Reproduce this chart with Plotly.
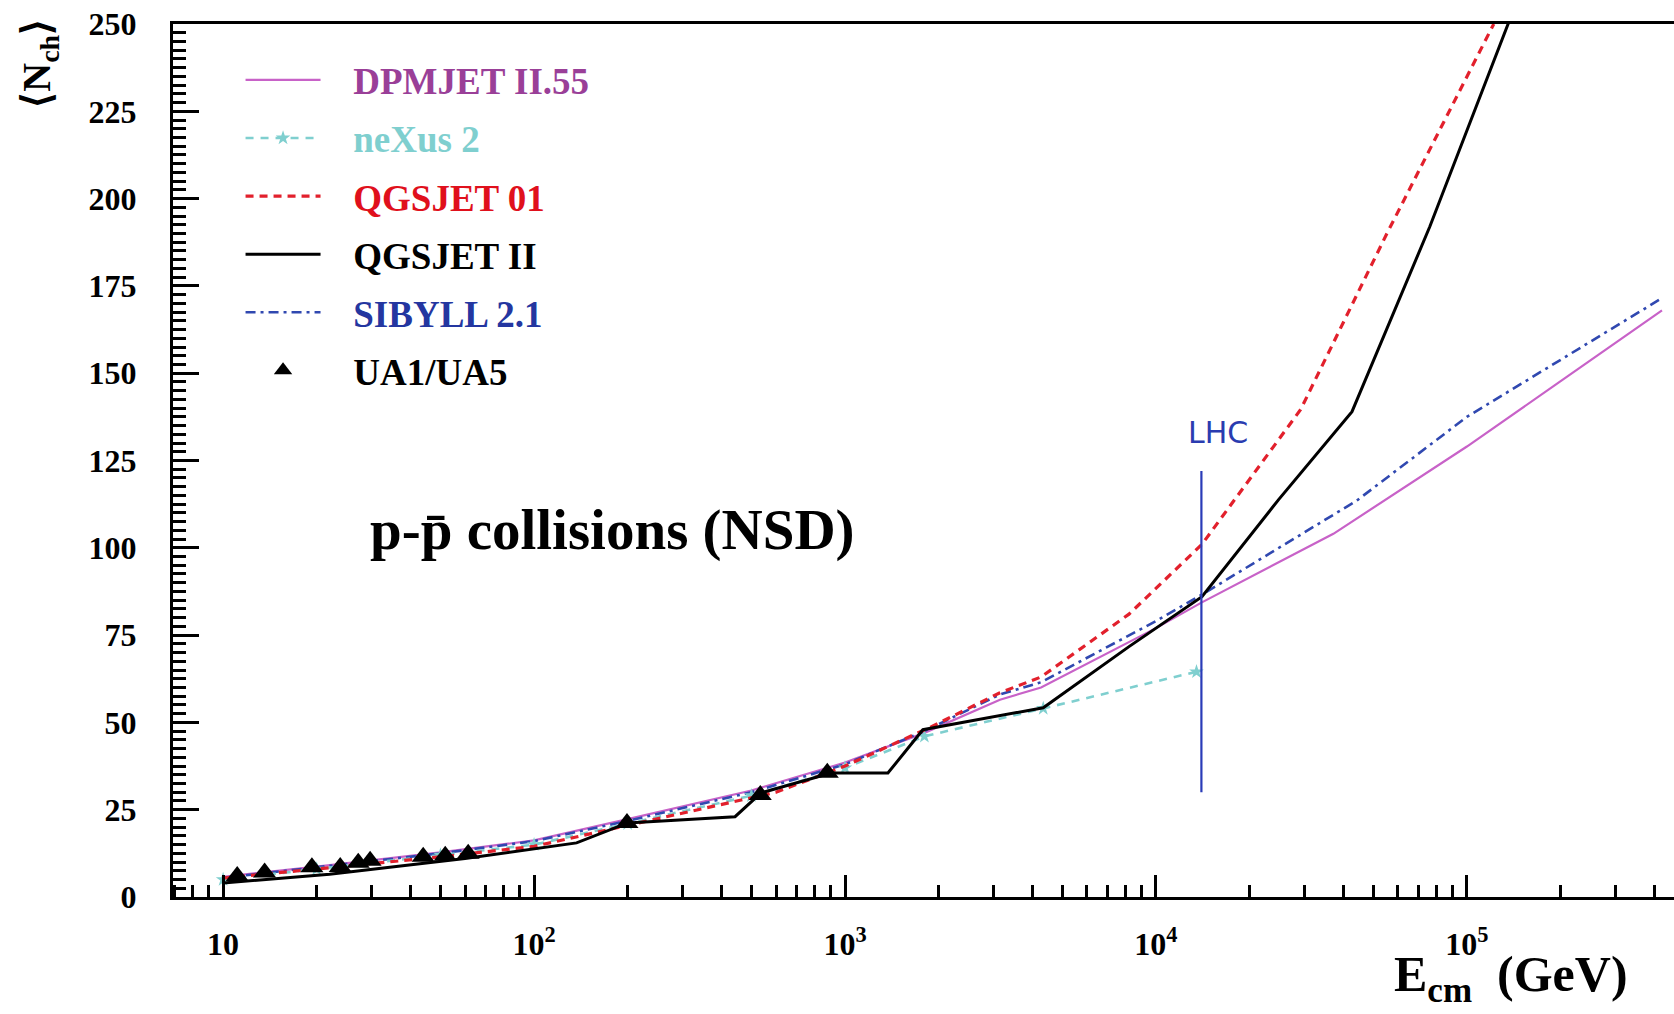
import math
import plotly.graph_objects as go

# ---------------- data ----------------
dpm_E = [10, 20, 50, 100, 200, 500, 1000, 1800, 3150, 4270, 10000, 14000, 37200, 100000, 195000, 424000]
dpm_N = [5.8, 8.7, 12.8, 16.2, 22.3, 30.5, 38.5, 47.0, 56.5, 60.0, 77.0, 84.3, 104.0, 129.0, 147.0, 168.0]

nx_E = [10, 20, 50, 100, 200, 500, 1000, 1800, 4340, 13500]
nx_N = [5.0, 8.0, 12.0, 15.0, 21.0, 29.0, 37.0, 46.0, 54.0, 64.5]

q1_E = [10, 20, 50, 100, 200, 363, 600, 1000, 1890, 3150, 4270, 8190, 14060, 29200, 55300, 122000]
q1_N = [5.4, 8.0, 11.5, 14.5, 20.5, 25.5, 30.0, 37.5, 48.7, 58.5, 63.0, 81.0, 101.0, 139.6, 190.0, 250.0]

q2_E = [10, 22, 60, 137, 200, 443, 537, 902, 1374, 1780, 4340, 8190, 14060, 24800, 42700, 76000, 137000]
q2_N = [4.0, 6.5, 11.0, 15.5, 21.2, 23.0, 29.8, 35.5, 35.5, 47.9, 54.2, 71.7, 86.0, 113.8, 139.0, 192.0, 251.0]

sib_E = [10, 20, 50, 100, 200, 500, 1000, 1800, 3150, 4270, 10000, 14000, 44200, 100000, 424000]
sib_N = [5.5, 8.5, 12.5, 16.0, 21.8, 30.0, 38.0, 47.5, 58.0, 61.5, 79.0, 86.5, 113.5, 137.5, 171.5]

ua_E = [11.1, 13.6, 19.3, 23.8, 27.2, 29.7, 44.0, 51.8, 61.4, 199, 534, 877]
ua_N = [6.0, 7.0, 8.5, 8.6, 9.8, 10.4, 11.5, 11.8, 12.4, 21.2, 29.2, 35.6]

lhc_E = [14000, 14000]
lhc_N = [30, 122]

x_tickvals = [10, 100, 1000, 10000, 100000]
x_ticktext = ["10", "10<sup>2</sup>", "10<sup>3</sup>", "10<sup>4</sup>", "10<sup>5</sup>"]
y_tickvals = [0, 25, 50, 75, 100, 125, 150, 175, 200, 225, 250]

x_minor = [m * 10 ** k for k in range(0, 6) for m in range(2, 10) if 6.9 < m * 10 ** k < 4.7e5]
y_minor = [i * 2.5 for i in range(0, 101)]

FONT = "Liberation Serif"
PAD = "\u00a0\u00a0\u00a0"

fig = go.Figure()

fig.add_trace(go.Scatter(
    x=dpm_E, y=dpm_N, mode="lines",
    line=dict(color="#c862c8", width=2.2),
    name=PAD + '<span style="color:#9a3f98">DPMJET II.55</span>',
    legendgroup="a", legendrank=1))
fig.add_trace(go.Scatter(
    x=sib_E, y=sib_N, mode="lines",
    line=dict(color="#3048b0", width=2.6, dash="10px,5px,3px,5px"),
    name=PAD + '<span style="color:#2436a0">SIBYLL 2.1</span>',
    legendgroup="e", legendrank=5))
fig.add_trace(go.Scatter(
    x=nx_E, y=nx_N, mode="lines+markers",
    line=dict(color="#7fcfcf", width=2.6, dash="8px,7px"),
    marker=dict(symbol="star", size=11, color="#7fcfcf"),
    name=PAD + '<span style="color:#7fcfcf">neXus 2</span>',
    legendgroup="b", legendrank=2))
fig.add_trace(go.Scatter(
    x=q1_E, y=q1_N, mode="lines",
    line=dict(color="#e2202c", width=3.2, dash="8px,6px"),
    name=PAD + '<span style="color:#e0101c">QGSJET 01</span>',
    legendgroup="c", legendrank=3))
fig.add_trace(go.Scatter(
    x=q2_E, y=q2_N, mode="lines",
    line=dict(color="#000000", width=3),
    name=PAD + '<span style="color:#000000">QGSJET II</span>',
    legendgroup="d", legendrank=4))
fig.add_trace(go.Scatter(
    x=ua_E, y=ua_N, mode="markers",
    marker=dict(symbol="triangle-up", size=20, color="#000000"),
    name=PAD + '<span style="color:#000000">UA1/UA5</span>',
    legendgroup="f", legendrank=6))
fig.add_trace(go.Scatter(
    x=lhc_E, y=lhc_N, mode="lines",
    line=dict(color="#2a3cb8", width=2.2),
    showlegend=False, hoverinfo="skip"))

fig.update_layout(
    width=1674, height=1014,
    margin=dict(l=173, r=0, t=24, b=117),
    paper_bgcolor="white", plot_bgcolor="white",
    font=dict(family=FONT, size=32, color="black", weight="bold"),
    showlegend=True,
    legend=dict(
        x=0.045, y=0.971, xanchor="left", yanchor="top",
        bgcolor="rgba(0,0,0,0)", borderwidth=0,
        font=dict(family=FONT, size=37, weight="bold"),
        tracegroupgap=7, itemwidth=75,
    ),
    xaxis=dict(
        type="log", range=[math.log10(6.9), 5.666],
        showgrid=False, zeroline=False,
        showline=True, linecolor="black", linewidth=3, mirror=True,
        ticks="inside", ticklen=22, tickwidth=2.5, tickcolor="black",
        tickvals=x_tickvals, ticktext=x_ticktext,
        tickfont=dict(family=FONT, size=32, weight="bold"),
        ticklabelstandoff=17,
        minor=dict(ticks="inside", ticklen=12, tickwidth=2.5, tickcolor="black",
                   tickvals=x_minor, showgrid=False),
    ),
    yaxis=dict(
        range=[0, 250],
        showgrid=False, zeroline=False,
        showline=True, linecolor="black", linewidth=3, mirror=False,
        ticks="inside", ticklen=26, tickwidth=2.5, tickcolor="black",
        tickvals=y_tickvals,
        tickfont=dict(family=FONT, size=32, weight="bold"),
        ticklabelstandoff=27,
        minor=dict(ticks="inside", ticklen=13, tickwidth=2.5, tickcolor="black",
                   tickvals=y_minor, showgrid=False),
    ),
    annotations=[
        dict(text="p-p\u0304 collisions (NSD)", xref="paper", yref="paper",
             x=0.13, y=0.42, xanchor="left", yanchor="middle", showarrow=False,
             font=dict(family=FONT, size=57, weight="bold", color="black")),
        dict(text="E<sub>cm</sub>  (GeV)", xref="paper", yref="paper",
             x=0.971, y=-0.093, xanchor="right", yanchor="middle", showarrow=False,
             font=dict(family=FONT, size=50, weight="bold", color="black")),
        dict(text="\u27e8N<sub>ch</sub>\u27e9", xref="paper", yref="paper",
             x=-0.089, y=0.955, xanchor="center", yanchor="middle", showarrow=False,
             textangle=-90,
             font=dict(family=FONT, size=40, weight="bold", color="black")),
        dict(text="LHC", xref="x", yref="y",
             x=math.log10(15800), y=133, xanchor="center", yanchor="middle", showarrow=False,
             font=dict(family="DejaVu Sans", size=30, weight="normal", color="#2a3cb0")),
    ],
)

fig.write_html("out.html")
